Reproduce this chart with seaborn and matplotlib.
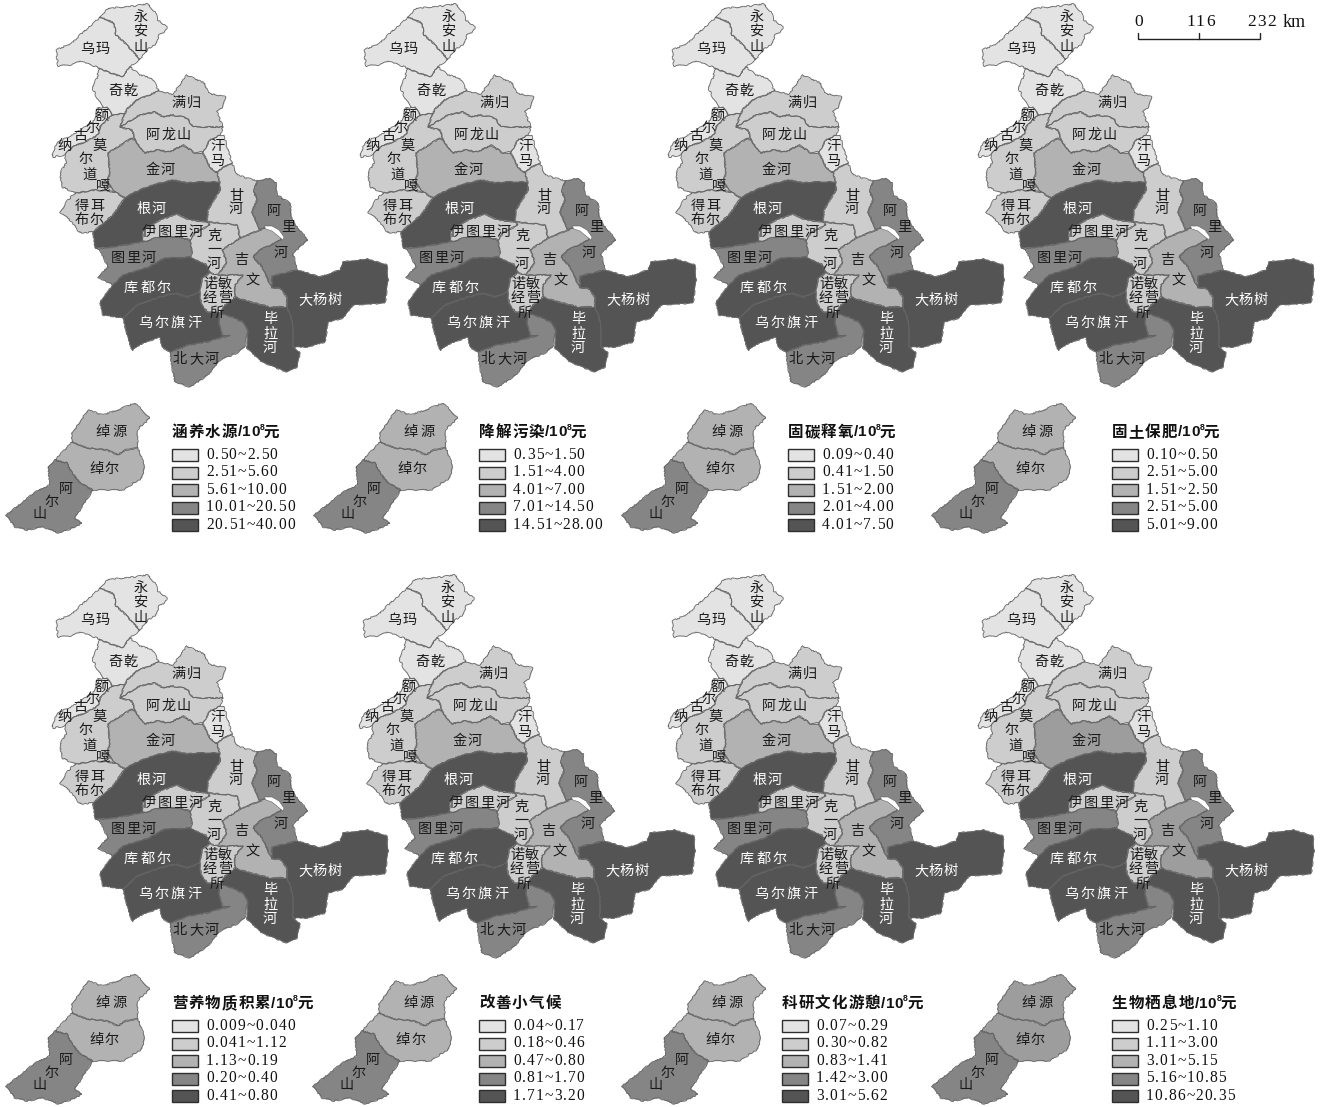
import matplotlib
matplotlib.use("Agg")
import matplotlib.pyplot as plt
import seaborn as sns
from matplotlib.font_manager import FontProperties
from matplotlib.textpath import TextToPath

sns.set_theme(style="white")
plt.rcParams['font.family'] = ['Noto Sans CJK SC', 'DejaVu Sans']

# ---------- region outlines ----------
YONGANSHAN = [(100,17),(108,8),(127,7),(148,4),(155,12),(158,20),(167,27),(164,33),(159,35),(157,43),(147,50),(140,59),(133,52),(125,43),(116,35),(114,23)]
WUMA = [(100,17),(114,23),(116,35),(125,43),(133,52),(140,59),(130,67),(122,77),(108,72),(99,68),(82,61),(70,65),(58,66),(56,50),(72,43),(83,32),(92,25)]
QIQIAN = [(99,68),(108,72),(122,77),(130,67),(140,75),(152,78),(159,91),(137,100),(128,108),(125,113),(112,115),(107,107),(103,107),(98,100),(92,87),(97,78)]
MANGUI = [(159,91),(173,94),(187,75),(197,80),(205,83),(208,93),(226,97),(223,107),(217,112),(223,127),(210,127),(193,127),(187,118),(173,115),(163,117),(155,112),(140,115),(128,122),(120,127),(125,113),(128,108),(137,100)]
ALONGSHAN = [(120,127),(128,122),(140,115),(155,112),(163,117),(173,115),(187,118),(193,127),(210,127),(223,127),(220,135),(210,140),(203,152),(195,153),(183,145),(170,152),(157,150),(145,153),(140,147),(135,140),(132,130)]
HANMA = [(210,140),(220,135),(224,135),(227,147),(232,163),(223,167),(217,173),(210,167),(203,153),(203,152)]
JINHE = [(132,138),(135,140),(140,147),(145,153),(157,150),(170,152),(183,145),(195,153),(203,153),(210,167),(217,173),(220,182),(200,182),(187,183),(173,180),(153,185),(135,192),(125,198),(115,192),(107,182),(110,173),(108,153)]
GENHE = [(93,232),(113,215),(125,198),(135,192),(153,185),(173,180),(187,183),(200,182),(220,182),(220,190),(208,210),(207,222),(190,220),(177,214),(160,220),(143,230),(142,242),(113,247),(95,248)]
YITULIHE = [(142,242),(143,230),(160,220),(177,214),(190,220),(207,222),(210,225),(195,233),(190,240),(180,237),(160,237)]
TULIHE = [(100,250),(95,248),(113,247),(142,242),(160,237),(180,237),(190,240),(192,252),(190,257),(177,258),(165,258),(147,268),(123,275),(113,285),(98,277),(108,267)]
KUDUER = [(113,285),(123,275),(147,268),(165,258),(177,258),(190,257),(207,265),(210,273),(202,278),(200,292),(187,297),(175,293),(157,298),(137,305),(123,318),(103,315),(100,302)]
WUERQIHAN = [(123,318),(137,305),(157,298),(175,293),(187,297),(200,292),(201,303),(207,312),(220,313),(219,322),(222,335),(230,335),(223,337),(207,342),(188,345),(170,352),(162,347),(160,337),(143,343),(132,350),(128,338)]
BEIDAHE = [(170,352),(188,345),(207,342),(223,337),(230,335),(222,335),(219,322),(220,313),(230,316),(243,322),(248,330),(245,347),(237,353),(220,360),(208,375),(190,387),(175,382),(172,367)]
BILAHE = [(220,313),(223,307),(235,297),(250,302),(270,307),(287,307),(293,323),(293,347),(300,353),(297,367),(287,372),(262,362),(247,348),(248,330),(243,322),(230,316)]
DAYANGSHU = [(272,276),(297,270),(320,277),(340,270),(343,262),(367,259),(387,265),(388,280),(385,303),(353,305),(343,318),(328,322),(325,342),(307,347),(293,347),(293,323),(287,307),(287,297),(280,288),(272,288)]
NUOMIN = [(202,278),(210,273),(218,275),(243,275),(235,285),(235,297),(223,307),(220,313),(207,312),(201,303),(200,292)]
JIWEN = [(222,250),(240,238),(260,230),(267,227),(278,231),(283,238),(275,243),(260,250),(253,257),(262,267),(272,288),(280,288),(287,297),(287,307),(270,307),(250,302),(235,297),(235,285),(243,275),(218,275),(227,262)]
KEYIHE = [(207,222),(220,223),(237,225),(240,238),(222,250),(227,262),(218,275),(210,273),(207,265),(190,257),(192,252),(190,240),(195,233),(210,225)]
GANHE = [(217,173),(223,167),(232,163),(237,175),(257,181),(254,192),(257,200),(252,212),(260,230),(240,238),(237,225),(220,223),(207,222),(208,210),(220,190),(220,182)]
ALIHE = [(257,181),(270,178),(276,183),(277,195),(290,203),(292,220),(297,227),(308,240),(293,253),(297,270),(272,276),(272,288),(262,267),(253,257),(260,250),(275,243),(283,238),(278,231),(267,227),(260,230),(252,212),(257,200),(254,192)]
EERGUNA = [(52,155),(57,142),(73,135),(93,122),(98,108),(107,107),(112,115),(100,127),(98,135),(85,142),(72,147),(65,155),(53,157)]
MOERDAOGA = [(112,115),(125,113),(120,127),(132,130),(135,140),(132,138),(108,153),(110,173),(107,182),(115,192),(95,190),(75,193),(62,187),(60,173),(66,163),(65,155),(72,147),(85,142),(98,135),(100,127)]
DEERBUER = [(75,193),(95,190),(115,192),(125,198),(113,215),(93,232),(80,233),(72,222),(60,212),(68,200)]
CHUOYUAN = [(72,433),(88,410),(103,415),(117,410),(135,403),(150,418),(137,430),(138,448),(125,450),(118,455),(107,450),(87,448),(72,442)]
CHUOER = [(72,442),(87,448),(107,450),(118,455),(125,450),(138,448),(145,467),(142,478),(123,490),(93,490),(80,483),(72,473),(67,463),(55,460)]
AERSHAN = [(48,467),(55,460),(67,463),(72,473),(80,483),(93,490),(83,505),(75,518),(82,523),(73,528),(58,533),(43,527),(27,530),(15,527),(6,515),(23,502),(35,492),(50,485)]
LAKE = [(264,226),(272,226),(279,230),(284,237),(283,240),(278,236),(272,231),(266,229)]

REGION_SHAPES = [YONGANSHAN, WUMA, QIQIAN, MANGUI, ALONGSHAN, HANMA, JINHE, GENHE, YITULIHE, TULIHE, KUDUER,
                 WUERQIHAN, BEIDAHE, BILAHE, DAYANGSHU, NUOMIN, JIWEN, KEYIHE, GANHE, ALIHE, EERGUNA, MOERDAOGA,
                 DEERBUER, CHUOYUAN, CHUOER, AERSHAN]

# ---------- class of each region in each of the eight maps ----------
# order as in REGION_SHAPES
common_classes = [1,1,1,2,2,1,3,5,2,4,5,5,4,5,5,2,3,2,2,4,1,2,2,3,3,4]
habitat_classes = [1,1,1,2,2,1,6,5,2,4,5,5,4,5,5,2,6,2,2,4,1,2,2,6,6,4]
water_classes = list(common_classes)
pollution_classes = list(common_classes)
carbon_classes = list(common_classes)
soil_classes = list(common_classes)
nutrient_classes = list(common_classes)
climate_classes = list(common_classes)
culture_classes = list(common_classes)
PANEL_CLASSES = [water_classes, pollution_classes, carbon_classes, soil_classes,
                 nutrient_classes, climate_classes, culture_classes, habitat_classes]

TITLES = ["涵养水源", "降解污染", "固碳释氧", "固土保肥", "营养物质积累", "改善小气候", "科研文化游憩", "生物栖息地"]
HAS_UNIT = [True, True, True, True, True, False, True, True]
LEGEND_TEXT = [
    ["0.50~2.50", "2.51~5.60", "5.61~10.00", "10.01~20.50", "20.51~40.00"],
    ["0.35~1.50", "1.51~4.00", "4.01~7.00", "7.01~14.50", "14.51~28.00"],
    ["0.09~0.40", "0.41~1.50", "1.51~2.00", "2.01~4.00", "4.01~7.50"],
    ["0.10~0.50", "2.51~5.00", "1.51~2.50", "2.51~5.00", "5.01~9.00"],
    ["0.009~0.040", "0.041~1.12", "1.13~0.19", "0.20~0.40", "0.41~0.80"],
    ["0.04~0.17", "0.18~0.46", "0.47~0.80", "0.81~1.70", "1.71~3.20"],
    ["0.07~0.29", "0.30~0.82", "0.83~1.41", "1.42~3.00", "3.01~5.62"],
    ["0.25~1.10", "1.11~3.00", "3.01~5.15", "5.16~10.85", "10.86~20.35"],
]

# text, first char centre, last char centre, class index of the region underneath
MAP_LABELS = [
    ("永安山",141,17,141,47,0),("乌玛",87,49,103,49,1),("奇乾",115,91,130,91,2),("满归",178,103,194,103,3),
    ("阿龙山",153,135,184,135,4),("汗马",217,146,217,161,5),("金河",153,170,168,170,6),("根河",144,209,159,209,7),
    ("伊图里河",149,232,196,232,8),("图里河",118,258,149,258,9),("库都尔",131,288,164,288,10),
    ("乌尔旗汗",145,323,194,323,11),("北大河",180,359,212,359,12),("毕拉河",270,319,270,348,13),
    ("大杨树",305,300,335,300,14),("诺敏",210,284,225,284,15),("经营",210,298,225,298,15),("所",217,313,217,313,15),
    ("吉",241,260,241,260,16),("文",253,281,253,281,16),("克一河",214,236,214,264,17),("甘河",236,196,236,209,18),
    ("阿",274,211,274,211,19),("里",288,227,288,227,19),("河",281,253,281,253,19),
    ("额",102,116,102,116,20),("尔",93,128,93,128,20),("古",80,136,80,136,20),("纳",64,146,64,146,20),
    ("莫",100,146,100,146,21),("尔",86,159,86,159,21),("道",89,176,89,176,21),("嘎",103,186,103,186,21),
    ("得耳",82,206,97,206,22),("布尔",82,220,97,220,22),
    ("绰源",103,432,119,432,23),("绰尔",96,469,112,469,24),("阿",66,489,66,489,25),("尔",52,502,52,502,25),("山",40,514,40,514,25),
]

SHADES = {1: "#e3e3e3", 2: "#cdcdcd", 3: "#b2b2b2", 4: "#858585", 5: "#545454", 6: "#9d9d9d"}
EDGE = "#646464"
PANEL_DX = [0, 308, 616, 926, 0, 307, 616, 926]
PANEL_DY = [0, 0, 0, 0, 571, 571, 571, 571]
LEGEND_X = [172, 479, 788, 1112, 172, 479, 782, 1112]
CJK = "Noto Sans CJK SC"
SERIF = "Liberation Serif"
SANS = "Liberation Sans"

fig = plt.figure(figsize=(13.23, 11.07), dpi=100, facecolor="white")
ax = fig.add_axes([0, 0, 1, 1])
ax.set_xlim(0, 1323)
ax.set_ylim(1107, 0)
ax.axis("off")
sns.despine(ax=ax, left=True, bottom=True)

_ttp = TextToPath()


def advance(ch, family, size, weight="normal"):
    prop = FontProperties(family=family, size=size, weight=weight)
    w, _, _ = _ttp.get_text_width_height_descent(ch, prop, False)
    return w * 100 / 72


def tracked(x, y, s, family, size, track, color="#111111", weight="normal"):
    for ch in s:
        ax.text(x, y, ch, family=family, fontsize=size, color=color, weight=weight, ha="left", va="center")
        x += advance(ch, family, size, weight) + track
    return x


for p in range(8):
    dx, dy = PANEL_DX[p], PANEL_DY[p]
    classes = PANEL_CLASSES[p]
    for shape, c in zip(REGION_SHAPES, classes):
        xs = [q[0] + dx for q in shape]
        ys = [q[1] + dy for q in shape]
        ax.fill(xs, ys, facecolor=SHADES[c], edgecolor=SHADES[c], lw=0.3, zorder=2)
    for shape in REGION_SHAPES:
        xs = [q[0] + dx for q in shape] + [shape[0][0] + dx]
        ys = [q[1] + dy for q in shape] + [shape[0][1] + dy]
        line, = ax.plot(xs, ys, color=EDGE, lw=0.6, zorder=3, solid_joinstyle="round")
        line.set_sketch_params(scale=0.7, length=7, randomness=20)
    ax.fill([q[0] + dx for q in LAKE], [q[1] + dy for q in LAKE], facecolor="white", edgecolor=EDGE, lw=0.4, zorder=4)

    for text, x0, y0, x1, y1, region in MAP_LABELS:
        color = "white" if classes[region] == 5 else "#1a1a1a"
        n = len(text)
        for i, ch in enumerate(text):
            t = i / (n - 1) if n > 1 else 0
            ax.text(x0 + (x1 - x0) * t + dx, y0 + (y1 - y0) * t + dy, ch, family=CJK, fontsize=10.2,
                    color=color, ha="center", va="center", zorder=5)

    # legend
    lx = LEGEND_X[p]
    ty = 432 + dy
    tx = tracked(lx, ty, TITLES[p], CJK, 11.2, 1.0, weight="bold")
    if HAS_UNIT[p]:
        tx = tracked(tx, ty + 0.5, "/10", SANS, 11, 0.0, weight="bold")
        ax.text(tx + 0.5, ty - 4.5, "8", family=SANS, fontsize=6.2, color="#111111", ha="left", va="center", weight="bold")
        tracked(tx + 4.5, ty, "元", CJK, 11.2, 0, weight="bold")
    for i, label in enumerate(LEGEND_TEXT[p]):
        by = 449 + i * 17.5 + dy
        ax.fill([lx, lx + 26, lx + 26, lx], [by, by, by + 12, by + 12], facecolor=SHADES[i + 1],
                edgecolor="#2e2e2e", lw=1.0, zorder=3)
        tracked(lx + 34, by + 5.8, label, SERIF, 11.2, 1.05)

# scale bar
ax.plot([1138, 1138, 1260, 1260], [33, 39, 39, 33], color="#222222", lw=1.0, solid_joinstyle="miter")
ax.plot([1199, 1199], [33, 39], color="#222222", lw=1.0)
ax.text(1138.5, 22.5, "0", family=SERIF, fontsize=12.5, color="#111111", ha="center", va="center")
tracked(1186, 22.5, "116", SERIF, 12.5, 1.2)
tracked(1247, 22.5, "232", SERIF, 12.5, 1.2)
ax.text(1283, 22.5, "km", family=SERIF, fontsize=13, color="#111111", ha="left", va="center")

fig.savefig("out.png", dpi=100)
